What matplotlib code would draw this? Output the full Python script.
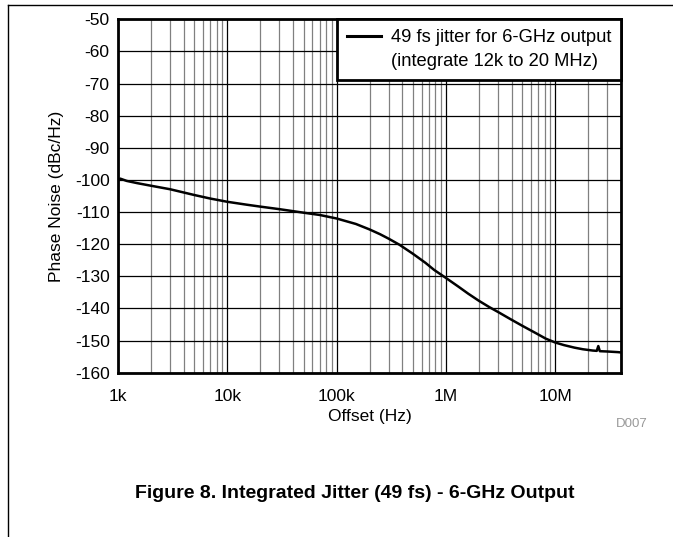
import matplotlib
matplotlib.use("Agg")
import matplotlib.pyplot as plt
from matplotlib.lines import Line2D
from matplotlib.ticker import FixedLocator, LogLocator, NullFormatter

plt.rcParams["font.family"] = ["Liberation Sans", "DejaVu Sans"]
plt.rcParams["axes.unicode_minus"] = False

# offset frequency (Hz) and phase noise (dBc/Hz)
freq_hz = [1.0e3, 1.05e3, 1.2e3, 1.5e3, 2e3, 3e3, 5e3, 7e3, 10e3, 15e3,
           20e3, 30e3, 50e3, 70e3, 100e3, 150e3, 200e3, 250e3, 300e3, 377e3,
           500e3, 650e3, 780e3, 1e6, 1.3e6, 1.6e6, 2e6, 2.5e6, 3e6, 3.93e6,
           5e6, 6.5e6, 8.2e6, 10e6, 12e6, 15e6, 17.9e6, 22e6, 24e6, 24.8e6,
           25.6e6, 30e6, 37.6e6, 40e6]
noise_dbc = [-100.3, -99.6, -100.3, -101.0, -101.8, -102.9, -104.7, -105.8,
             -106.8, -107.7, -108.3, -109.1, -110.2, -110.9, -112.0, -113.7,
             -115.4, -116.9, -118.3, -120.2, -123.0, -125.8, -128.0, -130.5,
             -133.2, -135.4, -137.6, -139.6, -141.1, -143.4, -145.4, -147.5,
             -149.4, -150.6, -151.4, -152.2, -152.7, -153.1, -153.2, -151.7,
             -153.3, -153.4, -153.6, -153.7]

x_ticks = [1e3, 1e4, 1e5, 1e6, 1e7]
x_labels = ["1k", "10k", "100k", "1M", "10M"]
y_ticks = list(range(-160, -49, 10))
legend_lines = ["49 fs jitter for 6-GHz output", "(integrate 12k to 20 MHz)"]
title = "Figure 8. Integrated Jitter (49 fs) - 6-GHz Output"

W, H = 673, 537
fig = plt.figure(figsize=(W / 100, H / 100), dpi=100)
ax = fig.add_axes([118 / W, 1 - 372.7 / H, (621 - 118) / W, (372.7 - 19.3) / H])

ax.semilogx(freq_hz, noise_dbc, color="black", lw=1.8, zorder=3)
ax.set_xlim(1e3, 4e7)
ax.set_ylim(-160, -50)

ax.xaxis.set_major_locator(FixedLocator(x_ticks))
ax.set_xticks(x_ticks, x_labels)
ax.xaxis.set_minor_locator(LogLocator(base=10, subs=range(2, 10), numticks=20))
ax.xaxis.set_minor_formatter(NullFormatter())
ax.set_yticks(y_ticks)
ax.tick_params(which="both", length=0, labelsize=12.5)
ax.tick_params(axis="x", pad=12)
ax.tick_params(axis="y", pad=6)

ax.grid(True, which="major", axis="both", color="black", lw=0.9)
ax.grid(True, which="minor", axis="x", color="#808080", lw=0.9)
for s in ax.spines.values():
    s.set_linewidth(2.0)

ax.set_xlabel("Offset (Hz)", fontsize=12.5, labelpad=3)
ax.set_ylabel("Phase Noise (dBc/Hz)", fontsize=12.5, labelpad=8)

handles = [Line2D([], [], color="black", lw=2.2), Line2D([], [], color="none")]
leg = ax.legend(handles, legend_lines, loc="upper right", bbox_to_anchor=(1, 1),
                borderaxespad=0, fontsize=13.2, frameon=True, fancybox=False,
                handlelength=1.85, handletextpad=0.5, borderpad=0.55,
                labelspacing=0.35)
leg.get_frame().set_edgecolor("black")
leg.get_frame().set_linewidth(2.0)
leg.get_frame().set_alpha(1)

fig.text(648 / W, 1 - 424 / H, "D007", ha="right", va="center",
         fontsize=9.5, color="#999999")
fig.text(355 / W, 1 - 493 / H, title, ha="center", va="center",
         fontsize=14, fontweight="bold")

# page frame lines
fig.add_artist(Line2D([8 / W, 1], [1 - 5 / H, 1 - 5 / H], color="black", lw=1.0))
fig.add_artist(Line2D([8 / W, 8 / W], [0, 1 - 5 / H], color="black", lw=1.0))

fig.savefig("out.png", dpi=100)
